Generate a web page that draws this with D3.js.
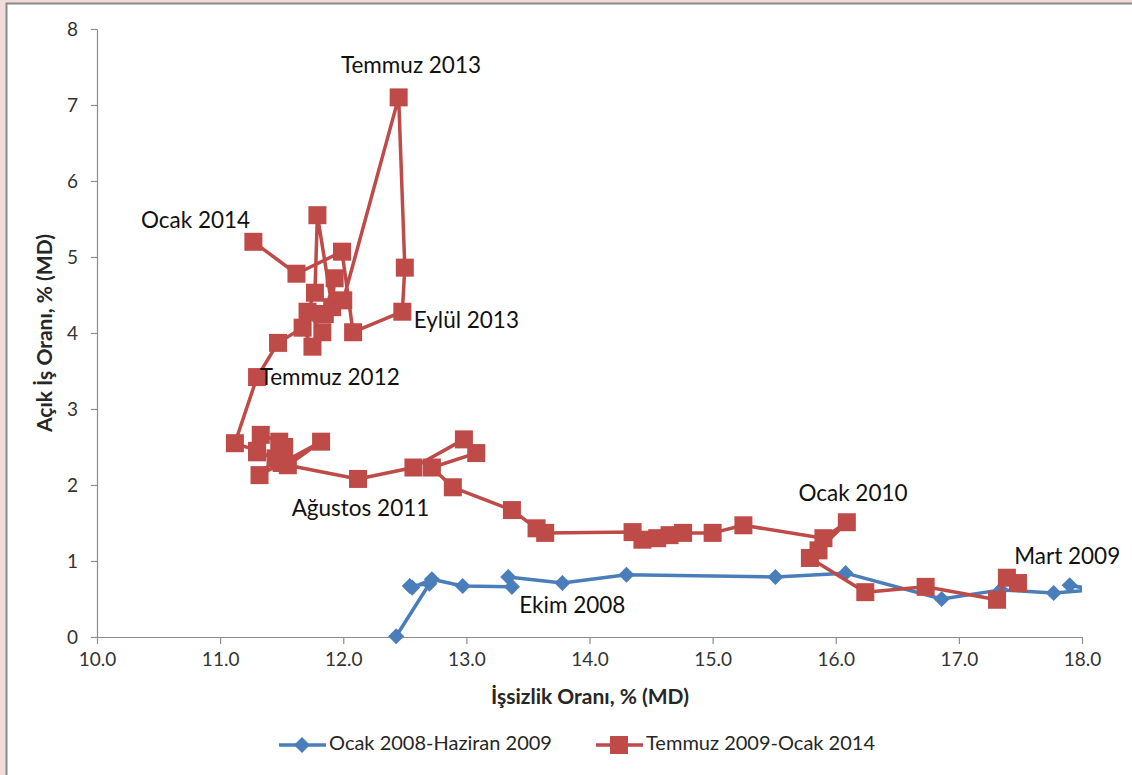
<!DOCTYPE html>
<html>
<head>
<meta charset="utf-8">
<script src="https://cdn.jsdelivr.net/npm/d3@7/dist/d3.min.js"></script>
<style>
  html, body { margin: 0; padding: 0; background: #f2dcdb; }
  svg { display: block; font-family: Lato, "Open Sans", sans-serif; }
</style>
</head>
<body>
<svg id="chart" width="1132" height="775"></svg>
<script>
// unemployment (x) / job vacancy (y) pairs, both % seasonally adjusted
const seriesNames = ['Ocak 2008-Haziran 2009', 'Temmuz 2009-Ocak 2014'];

const blueX = [12.43, 12.70, 12.54, 12.56, 12.72, 12.97, 13.37, 13.34, 13.78, 14.30,
  15.51, 16.08, 16.86, 17.34, 17.77, 18.10, 17.90, 18.20];
const blueY = [0.01, 0.70, 0.67, 0.65, 0.76, 0.67, 0.66, 0.79, 0.71, 0.82,
  0.79, 0.84, 0.50, 0.62, 0.58, 0.62, 0.68, 0.60];

const redX = [17.48, 17.39, 17.31, 16.73, 16.24, 15.79, 15.86, 16.09, 15.90, 15.25,
  15.00, 14.76, 14.65, 14.55, 14.43, 14.35, 13.64, 13.57, 13.37, 12.89,
  12.72, 13.08, 12.98, 12.57, 12.12, 11.55, 11.82, 11.50, 11.32, 11.45,
  11.30, 11.33, 11.48, 11.52, 11.50, 11.30, 11.12, 11.30, 11.47, 11.67,
  11.75, 11.83, 11.71, 11.77, 11.79, 11.91, 11.93, 11.85, 12.00, 12.45,
  12.50, 12.48, 12.08, 11.99, 11.62, 11.27];
const redY = [0.71, 0.78, 0.49, 0.66, 0.59, 1.04, 1.14, 1.51, 1.30, 1.47,
  1.37, 1.37, 1.34, 1.30, 1.28, 1.38, 1.37, 1.43, 1.67, 1.97,
  2.23, 2.42, 2.60, 2.23, 2.08, 2.26, 2.57, 2.29, 2.13, 2.35,
  2.43, 2.66, 2.57, 2.50, 2.30, 2.45, 2.55, 3.42, 3.87, 4.07,
  3.82, 4.01, 4.28, 4.53, 5.55, 4.34, 4.72, 4.25, 4.43, 7.10,
  4.86, 4.28, 4.01, 5.07, 4.78, 5.20];

// point labels, placed in data units
const labelText = ['Temmuz 2013', 'Ocak 2014', 'Eylül 2013', 'Temmuz 2012',
  'Ağustos 2011', 'Ocak 2010', 'Ekim 2008', 'Mart 2009'];
const labelX = [12.55, 10.80, 13.00, 11.89, 12.14, 16.14, 13.86, 17.88];
const labelY = [7.50, 5.46, 4.14, 3.39, 1.67, 1.86, 0.39, 1.04];

const xTicks = [10, 11, 12, 13, 14, 15, 16, 17, 18];
const yTicks = [0, 1, 2, 3, 4, 5, 6, 7, 8];

const colors = ['#4a7ebb', '#be4b48'];

const svg = d3.select('#chart');
svg.append('rect')
  .attr('x', 6.5).attr('y', 3.5).attr('width', 1140).attr('height', 800)
  .attr('fill', '#fff').attr('stroke', '#8a8a8a').attr('stroke-width', 2);

const margin = {left: 97, top: 29, right: 1082, bottom: 637};
const x = d3.scaleLinear().domain([10, 18]).range([margin.left, margin.right]);
const y = d3.scaleLinear().domain([0, 8]).range([margin.bottom, margin.top]);

svg.append('defs').append('clipPath').attr('id', 'plot')
  .append('rect').attr('x', margin.left).attr('y', 0)
  .attr('width', margin.right - margin.left).attr('height', margin.bottom + 10);

// axes
const yAxis = svg.append('g').attr('transform', `translate(${margin.left},0)`)
  .call(d3.axisLeft(y).tickValues(yTicks).tickSize(6).tickSizeOuter(0).tickPadding(13).tickFormat(d3.format('d')));
const xAxis = svg.append('g').attr('transform', `translate(0,${margin.bottom})`)
  .call(d3.axisBottom(x).tickValues(xTicks).tickSize(7).tickSizeOuter(0).tickPadding(9).tickFormat(d3.format('.1f')));
[xAxis, yAxis].forEach(g => {
  g.selectAll('path, line').attr('stroke', '#8c8c8c').attr('stroke-width', 1.2);
  g.selectAll('text').attr('font-size', 19).attr('fill', '#333').attr('font-family', 'Lato');
});

svg.append('text')
  .attr('x', 590).attr('y', 704).attr('text-anchor', 'middle')
  .attr('font-size', 21).attr('font-weight', 'bold').attr('fill', '#262626')
  .text('İşsizlik Oranı, % (MD)');
svg.append('text')
  .attr('transform', 'translate(52,333) rotate(-90)').attr('text-anchor', 'middle')
  .attr('font-size', 21).attr('font-weight', 'bold').attr('fill', '#262626')
  .text('Açık İş Oranı, % (MD)');

const blue = blueX.map((v, i) => [v, blueY[i]]);
const red = redX.map((v, i) => [v, redY[i]]);
const line = d3.line().x(d => x(d[0])).y(d => y(d[1]));

const plot = svg.append('g').attr('clip-path', 'url(#plot)');
const diamond = d3.symbol().type(d3.symbolDiamond2).size(165);

plot.append('path').datum(blue).attr('d', line)
  .attr('fill', 'none').attr('stroke', colors[0]).attr('stroke-width', 3.5).attr('stroke-linejoin', 'round');
plot.selectAll('.dia').data(blue).join('path').attr('class', 'dia')
  .attr('d', diamond).attr('transform', d => `translate(${x(d[0])},${y(d[1])})`)
  .attr('fill', colors[0]);

plot.append('path').datum(red).attr('d', line)
  .attr('fill', 'none').attr('stroke', colors[1]).attr('stroke-width', 3.5).attr('stroke-linejoin', 'round');
plot.selectAll('.sq').data(red).join('rect').attr('class', 'sq')
  .attr('x', d => x(d[0]) - 9).attr('y', d => y(d[1]) - 9)
  .attr('width', 18).attr('height', 18)
  .attr('fill', colors[1]);

svg.selectAll('.lbl').data(labelText).join('text').attr('class', 'lbl')
  .attr('x', (d, i) => x(labelX[i])).attr('y', (d, i) => y(labelY[i]))
  .attr('text-anchor', 'middle').attr('dominant-baseline', 'middle')
  .attr('font-size', 22.5).attr('fill', '#111')
  .text(d => d);

// legend
const legend = svg.append('g').attr('transform', 'translate(279,745)');
const legX = [0, 317];
seriesNames.forEach((name, i) => {
  const g = legend.append('g').attr('transform', `translate(${legX[i]},0)`);
  g.append('line').attr('x1', 0).attr('x2', 47).attr('stroke', colors[i]).attr('stroke-width', 3.5);
  if (i === 0) {
    g.append('path').attr('d', diamond).attr('transform', 'translate(23,0)').attr('fill', colors[i]);
  } else {
    g.append('rect').attr('x', 14).attr('y', -9).attr('width', 18).attr('height', 18).attr('fill', colors[i]);
  }
  g.append('text').attr('x', 50).attr('dominant-baseline', 'middle')
    .attr('font-size', 20).attr('fill', '#262626').text(name);
});
</script>
</body>
</html>
